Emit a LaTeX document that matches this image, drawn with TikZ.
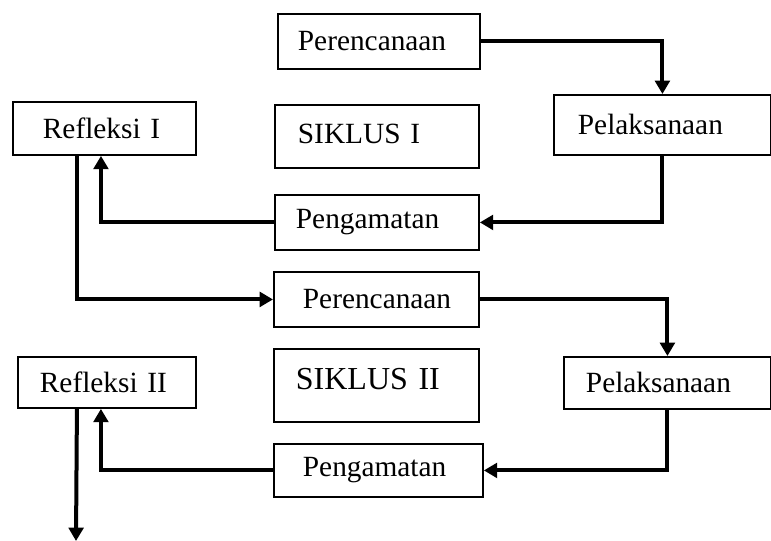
\documentclass[tikz,border=0pt]{standalone}
\usepackage{fontspec}
\setmainfont{Liberation Serif}
\usetikzlibrary{arrows.meta,positioning}

\tikzset{
  stage/.style={draw, line width=1.4pt, anchor=north west, align=left,
    font=\fontsize{22}{26}\selectfont, inner ysep=0pt},
  flow/.style={line width=3pt, -{Triangle[length=10pt,width=11pt]}}
}

\begin{document}
\begin{tikzpicture}[x=0.75pt, y=-0.75pt, line join=miter]
  \useasboundingbox (0,0) rectangle (771,541);

  % --- Siklus I ---
  \node[stage, inner xsep=15pt, text width=121.5pt, minimum height=41.25pt] (per1) at (277,13) {Perencanaan};
  \node[stage, inner xsep=18pt, text width=126.75pt, minimum height=45pt] (pel1) at (553,94) {Pelaksanaan};
  \node[stage, inner xsep=22.5pt, text width=92.25pt, minimum height=39.75pt] (ref1) at (12,101) {Refleksi I};
  \node[stage, inner xsep=17.25pt, text width=118.5pt, minimum height=47.25pt] (sik1) at (274,104) {SIKLUS I\strut};
  \node[stage, inner xsep=15.75pt, text width=121.5pt, minimum height=41.25pt] (pen1) at (274,194) {Pengamatan};

  % --- Siklus II ---
  \node[stage, inner xsep=21.75pt, text width=110.25pt, minimum height=41.25pt] (per2) at (273,271) {Perencanaan};
  \node[stage, inner xsep=16.5pt, text width=120.75pt, minimum height=54.75pt,
        font=\fontsize{24}{28}\selectfont] (sik2) at (273,348) {\raisebox{4.5pt}[\height][\depth]{SIKLUS II}};
  \node[stage, inner xsep=16.5pt, text width=122.25pt, minimum height=39pt] (pel2) at (563,356) {Pelaksanaan};
  \node[stage, inner xsep=21.75pt, text width=113.25pt, minimum height=39.75pt] (pen2) at (273,443) {Pengamatan};
  \node[stage, inner xsep=16.5pt, text width=100.5pt, minimum height=38.25pt] (ref2) at (17,356) {Refleksi II};

  % end of the last arrow
  \coordinate (lanjut) at (76,541);

  % --- connectors, cycle I ---
  \draw[flow] (per1.east) -| (pel1.north);
  \draw[flow] (pel1.south) |- (pen1.east);
  \draw[flow] (pen1.west) -| ([xshift=-2.6pt]ref1.south);
  \draw[flow] ([xshift=-20.6pt]ref1.south) |- (per2.west);

  % --- connectors, cycle II ---
  \draw[flow] (per2.east) -| (pel2.north);
  \draw[flow] (pel2.south) |- (pen2.east);
  \draw[flow] (pen2.west) -| ([xshift=-4.5pt]ref2.south);
  \draw[flow] ([xshift=-22.5pt]ref2.south) -- (lanjut);
\end{tikzpicture}
\end{document}
